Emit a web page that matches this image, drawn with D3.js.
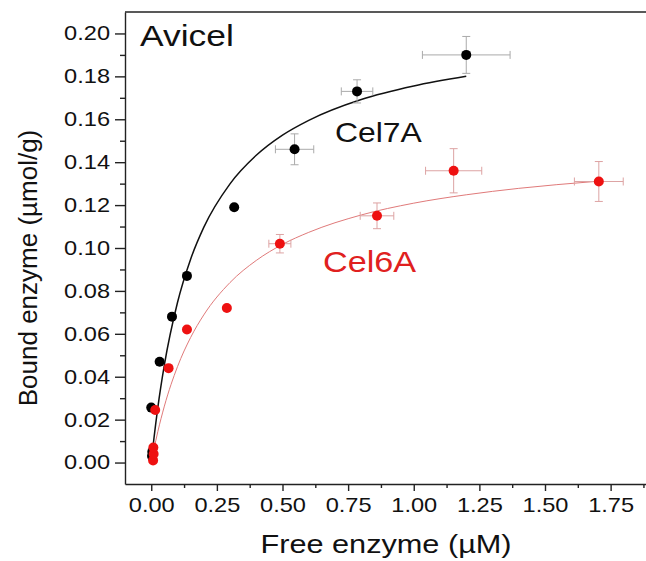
<!DOCTYPE html>
<html>
<head>
<meta charset="utf-8">
<script src="https://cdn.jsdelivr.net/npm/d3@7"></script>
<style>
  body { margin: 0; background: #fff; }
  text { font-family: "Liberation Sans", Arial, sans-serif; }
</style>
</head>
<body>
<script>
// chart size
var w = 646;
var h = 561;
var sx = 1.18;   // the source picture is a little stretched sideways

// Cel7A data points (free enzyme uM, bound enzyme umol/g)
var cel7aX    = [0.004, 0.003, 0.000, 0.032, 0.079, 0.136, 0.316, 0.546, 0.784, 1.200];
var cel7aY    = [0.005, 0.003, 0.0256, 0.047, 0.068, 0.087, 0.119, 0.146, 0.173, 0.190];
var cel7aXErr = [0, 0, 0, 0, 0, 0, 0, 0.073, 0.060, 0.167];
var cel7aYErr = [0, 0, 0, 0, 0, 0, 0, 0.0072, 0.0054, 0.0086];

// Cel6A data points
var cel6aX    = [0.007, 0.009, 0.008, 0.015, 0.066, 0.136, 0.288, 0.490, 0.860, 1.152, 1.705];
var cel6aY    = [0.001, 0.004, 0.007, 0.0245, 0.044, 0.062, 0.072, 0.102, 0.115, 0.136, 0.131];
var cel6aXErr = [0, 0, 0, 0, 0, 0, 0, 0.042, 0.064, 0.107, 0.093];
var cel6aYErr = [0, 0, 0, 0, 0, 0, 0, 0.0043, 0.006, 0.0103, 0.0093];

// fitted curves
var fit7aX = [0, 0.01, 0.025, 0.05, 0.1, 0.15, 0.2, 0.3, 0.4, 0.5, 0.6, 0.8, 1.0, 1.2];
var fit7aY = [0, 0.011, 0.0256, 0.0455, 0.0746, 0.0948, 0.1096, 0.1299, 0.1432, 0.1526, 0.1595, 0.1692, 0.1755, 0.1800];
var fit6aX = [0, 0.01, 0.025, 0.05, 0.1, 0.15, 0.2, 0.3, 0.4, 0.5, 0.6, 0.8, 1.0, 1.2, 1.4, 1.69];
var fit6aY = [0, 0.0061, 0.0144, 0.0263, 0.0447, 0.0583, 0.0688, 0.0839, 0.0942, 0.1017, 0.1073, 0.1154, 0.1209, 0.1248, 0.1278, 0.1310];

// ticks
var xTicks = [0, 0.25, 0.5, 0.75, 1.0, 1.25, 1.5, 1.75];
var xMinor = [0.125, 0.375, 0.625, 0.875, 1.125, 1.375, 1.625, 1.875];
var yTicks = [0, 0.02, 0.04, 0.06, 0.08, 0.10, 0.12, 0.14, 0.16, 0.18, 0.20];
var yMinor = [0.01, 0.03, 0.05, 0.07, 0.09, 0.11, 0.13, 0.15, 0.17, 0.19];

var xScale = d3.scaleLinear().domain([-0.1, 1.9]).range([125, 650]);
var yScale = d3.scaleLinear().domain([-0.01, 0.21]).range([484, 12]);

var svg = d3.select("body")
            .append("svg")
            .attr("width", w)
            .attr("height", h);

// text with the sideways stretch
function label(x, y, str, size, color, anchor) {
    return svg.append("text")
        .attr("transform", "translate(" + x + "," + y + ") scale(" + sx + ",1)")
        .attr("font-size", size)
        .attr("fill", color)
        .attr("text-anchor", anchor || "start")
        .text(str);
}

function plotAxes() {
    // minor ticks
    svg.append("g")
       .attr("transform", "translate(0," + yScale.range()[0] + ")")
       .call(d3.axisBottom(xScale).tickValues(xMinor).tickSize(4).tickSizeOuter(0).tickFormat(""))
       .call(g => g.select(".domain").remove());
    svg.append("g")
       .attr("transform", "translate(" + xScale.range()[0] + ",0)")
       .call(d3.axisLeft(yScale).tickValues(yMinor).tickSize(5).tickSizeOuter(0).tickFormat(""))
       .call(g => g.select(".domain").remove());

    var gx = svg.append("g")
       .attr("transform", "translate(0," + yScale.range()[0] + ")")
       .call(d3.axisBottom(xScale).tickValues(xTicks).tickSize(7).tickPadding(7)
               .tickSizeOuter(0).tickFormat(d3.format(".2f")));
    gx.selectAll("text")
      .attr("font-size", 20)
      .attr("font-family", "Liberation Sans, Arial, sans-serif")
      .attr("fill", "#111")
      .attr("transform", "scale(" + sx + ",1)");

    var gy = svg.append("g")
       .attr("transform", "translate(" + xScale.range()[0] + ",0)")
       .call(d3.axisLeft(yScale).tickValues(yTicks).tickSize(10).tickPadding(4)
               .tickSizeOuter(0).tickFormat(d3.format(".2f")));
    gy.selectAll("text")
      .attr("font-size", 20)
      .attr("font-family", "Liberation Sans, Arial, sans-serif")
      .attr("fill", "#111")
      .attr("x", -15 / sx)
      .attr("transform", "scale(" + sx + ",1)");

    svg.selectAll(".domain, .tick line").attr("stroke", "#222").attr("stroke-width", 1.4);

    // top frame line
    svg.append("line")
       .attr("x1", xScale.range()[0]).attr("x2", w)
       .attr("y1", yScale.range()[1]).attr("y2", yScale.range()[1])
       .attr("stroke", "#222").attr("stroke-width", 1.4);
}

function plotSeries(xs, ys, xe, ye, fx, fy, dotColor, barColor, lineColor, lineWidth) {
    var line = d3.line()
        .x(i => xScale(fx[i]))
        .y(i => yScale(fy[i]))
        .curve(d3.curveMonotoneX);
    svg.append("path")
       .attr("d", line(d3.range(fx.length)))
       .attr("fill", "none")
       .attr("stroke", lineColor)
       .attr("stroke-width", lineWidth);

    var idx = d3.range(xs.length).filter(i => xe[i] > 0);
    var bars = svg.append("g").attr("stroke", barColor).attr("stroke-width", 1);
    idx.forEach(function(i) {
        var px = xScale(xs[i]), py = yScale(ys[i]);
        var x0 = xScale(xs[i] - xe[i]), x1 = xScale(xs[i] + xe[i]);
        var y0 = yScale(ys[i] - ye[i]), y1 = yScale(ys[i] + ye[i]);
        bars.append("line").attr("x1", x0).attr("x2", x1).attr("y1", py).attr("y2", py);
        bars.append("line").attr("x1", px).attr("x2", px).attr("y1", y0).attr("y2", y1);
        bars.append("line").attr("x1", x0).attr("x2", x0).attr("y1", py - 4).attr("y2", py + 4);
        bars.append("line").attr("x1", x1).attr("x2", x1).attr("y1", py - 4).attr("y2", py + 4);
        bars.append("line").attr("x1", px - 4).attr("x2", px + 4).attr("y1", y0).attr("y2", y0);
        bars.append("line").attr("x1", px - 4).attr("x2", px + 4).attr("y1", y1).attr("y2", y1);
    });

    svg.append("g")
       .selectAll("circle")
       .data(d3.range(xs.length))
       .join("circle")
       .attr("cx", i => xScale(xs[i]))
       .attr("cy", i => yScale(ys[i]))
       .attr("r", 5)
       .attr("fill", dotColor);
}

plotAxes();
plotSeries(cel7aX, cel7aY, cel7aXErr, cel7aYErr, fit7aX, fit7aY, "#000", "#aaa", "#111", 1.5);
plotSeries(cel6aX, cel6aY, cel6aXErr, cel6aYErr, fit6aX, fit6aY, "#ee1111", "#dda3a3", "#e07a7a", 1);

// labels
label(140, 46, "Avicel", 30, "#111");
label(335, 142, "Cel7A", 27, "#111");
label(323, 272, "Cel6A", 29, "#e02020");
label(386, 553, "Free enzyme (\u00b5M)", 26, "#111", "middle");

svg.append("text")
   .attr("transform", "translate(37,268) rotate(-90)")
   .attr("font-size", 26)
   .attr("fill", "#111")
   .attr("text-anchor", "middle")
   .text("Bound enzyme (\u00b5mol/g)");
</script>
</body>
</html>
